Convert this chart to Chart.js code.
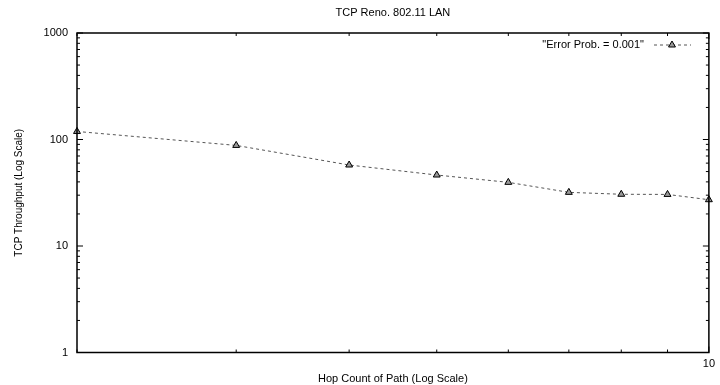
<!DOCTYPE html>
<html>
<head>
<meta charset="utf-8">
<script src="https://cdn.jsdelivr.net/npm/chart.js@4/dist/chart.umd.min.js"></script>
<style>
  html, body { margin: 0; padding: 0; background: #fff; }
  #wrap { width: 720px; height: 385px; position: relative; }
</style>
</head>
<body>
<div id="wrap"><canvas id="chart-canvas"></canvas></div>
<script>
// Data
const hopCounts = [2, 3, 4, 5, 6, 7, 8, 9, 10];
const throughput = [119, 88, 57.6, 46.4, 39.6, 31.9, 30.6, 30.5, 27.2];
const seriesLabel = '"Error Prob. = 0.001"';
const yTickValues = [1, 10, 100, 1000];
const xTickValues = [2, 3, 4, 5, 6, 7, 8, 9, 10];
const xLabeledTicks = [10];

const chartTitle = 'TCP Reno. 802.11 LAN';
const xTitle = 'Hop Count of Path (Log Scale)';
const yTitle = 'TCP Throughput (Log Scale)';

const FONT = '"Liberation Sans", Arial, Helvetica, sans-serif';

// gnuplot-like frame, inward ticks, title and key
const gnuplotFrame = {
  id: 'gnuplotFrame',
  afterDatasetsDraw(chart) {
    const ctx = chart.ctx;
    const a = chart.chartArea;
    const xs = chart.scales.x;
    const ys = chart.scales.y;
    ctx.save();
    ctx.strokeStyle = '#000';
    ctx.lineWidth = 1;

    // y ticks: majors at decades, minors 2..9
    for (let d = 1; d <= 1000; d *= 10) {
      for (let m = 1; m <= 9; m++) {
        const v = d * m;
        if (v > 1000) break;
        const py = ys.getPixelForValue(v);
        const len = m === 1 ? 6 : 3;
        ctx.beginPath();
        ctx.moveTo(a.left, py); ctx.lineTo(a.left + len, py);
        ctx.moveTo(a.right, py); ctx.lineTo(a.right - len, py);
        ctx.stroke();
      }
    }
    // x ticks
    xTickValues.forEach(v => {
      const px = xs.getPixelForValue(v);
      const len = v === 10 ? 6 : 3;
      ctx.beginPath();
      ctx.moveTo(px, a.bottom); ctx.lineTo(px, a.bottom - len);
      ctx.moveTo(px, a.top); ctx.lineTo(px, a.top + len);
      ctx.stroke();
    });

    // frame
    ctx.lineWidth = 1.5;
    ctx.strokeRect(a.left, a.top, a.right - a.left, a.bottom - a.top);

    // title
    ctx.fillStyle = '#000';
    ctx.font = '11px ' + FONT;
    ctx.textAlign = 'center';
    ctx.textBaseline = 'middle';
    ctx.fillText(chartTitle, (a.left + a.right) / 2, 13);

    // key
    const ds = chart.data.datasets[0];
    const ky = 45;
    ctx.textAlign = 'right';
    ctx.fillText(ds.label, 644, ky);
    ctx.strokeStyle = ds.borderColor;
    ctx.lineWidth = ds.borderWidth;
    ctx.setLineDash(ds.borderDash);
    ctx.beginPath();
    ctx.moveTo(654, ky); ctx.lineTo(691, ky);
    ctx.stroke();
    ctx.setLineDash([]);
    ctx.fillStyle = ds.pointBackgroundColor;
    ctx.strokeStyle = ds.pointBorderColor;
    ctx.lineWidth = ds.pointBorderWidth;
    Chart.helpers.drawPoint(ctx, {
      pointStyle: 'triangle',
      radius: ds.pointRadius,
      borderWidth: ds.pointBorderWidth
    }, 672, ky);
    ctx.restore();
  }
};

const ctx = document.getElementById('chart-canvas').getContext('2d');
new Chart(ctx, {
  type: 'line',
  data: {
    datasets: [{
      label: seriesLabel,
      data: hopCounts.map((h, i) => ({ x: h, y: throughput[i] })),
      borderColor: '#555',
      borderWidth: 1,
      borderDash: [3, 3],
      fill: false,
      tension: 0,
      pointStyle: 'triangle',
      pointRadius: 4,
      pointBorderWidth: 1,
      pointBackgroundColor: '#999',
      pointBorderColor: '#000',
      clip: false
    }]
  },
  options: {
    responsive: true,
    maintainAspectRatio: false,
    animation: false,
    layout: { padding: { top: 33, right: 11, left: 0, bottom: 0 } },
    plugins: {
      legend: { display: false },
      title: { display: false },
      tooltip: { enabled: false }
    },
    scales: {
      x: {
        type: 'logarithmic',
        min: 2,
        max: 10,
        afterBuildTicks: scale => { scale.ticks = xTickValues.map(v => ({ value: v })); },
        afterFit: scale => { scale.height = 32.5; },
        grid: { display: false, drawTicks: false },
        border: { display: false },
        ticks: {
          autoSkip: false,
          maxRotation: 0,
          padding: 5,
          color: '#000',
          font: { family: FONT, size: 11 },
          callback: v => xLabeledTicks.includes(v) ? String(v) : ''
        },
        title: {
          display: true,
          text: xTitle,
          color: '#000',
          font: { family: FONT, size: 11, lineHeight: 1 },
          padding: { top: 0, bottom: 0.5 }
        }
      },
      y: {
        type: 'logarithmic',
        min: 1,
        max: 1000,
        afterBuildTicks: scale => { scale.ticks = yTickValues.map(v => ({ value: v })); },
        afterFit: scale => { scale.width = 77; },
        grid: { display: false, drawTicks: false },
        border: { display: false },
        ticks: {
          padding: 9,
          color: '#000',
          font: { family: FONT, size: 11 },
          callback: v => String(v)
        },
        title: {
          display: true,
          text: yTitle,
          color: '#000',
          font: { family: FONT, size: 10, lineHeight: 1.2 },
          padding: { top: 13, bottom: 0 }
        }
      }
    }
  },
  plugins: [gnuplotFrame]
});
</script>
</body>
</html>
